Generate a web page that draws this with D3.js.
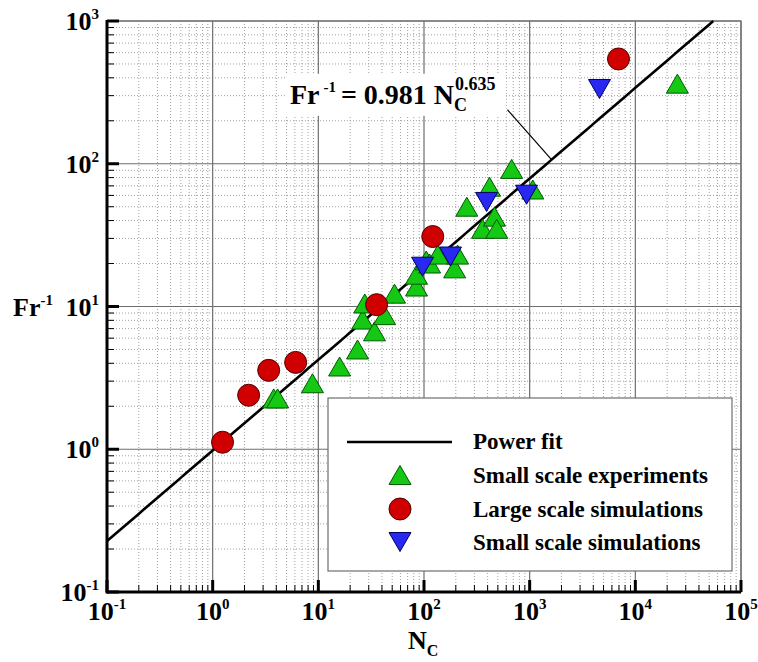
<!DOCTYPE html>
<html><head><meta charset="utf-8">
<script src="https://cdn.jsdelivr.net/npm/d3@7"></script>
<style>
html,body{margin:0;padding:0;background:#fff;}
text{font-family:"Liberation Serif","Times New Roman",serif;font-weight:bold;fill:#000;}
</style></head>
<body>
<svg id="chart" width="758" height="662"></svg>
<script>
// ---- data ----
const xTickValues = [0.1, 1, 10, 100, 1000, 10000, 100000];
const xTickExps = ["-1", "0", "1", "2", "3", "4", "5"];
const yTickValues = [0.1, 1, 10, 100, 1000];
const yTickExps = ["-1", "0", "1", "2", "3"];

const smallExpN  = [3.78, 4.12, 8.8, 15.9, 23.5, 26.3, 27.5, 34, 42.4, 52.6, 85, 85, 105, 113, 135, 195, 208, 254, 358, 417, 465, 488, 675, 1070, 25000];
const smallExpFr = [2.27, 2.27, 2.9, 3.8, 5.0, 8.1, 10.5, 6.7, 8.7, 12.3, 13.8, 16.7, 21, 20.0, 23.1, 18.5, 23.1, 50, 35, 69, 42.6, 35, 92, 66, 364];

const largeSimN  = [1.24, 2.19, 3.39, 6.1, 35.6, 121, 6930];
const largeSimFr = [1.12, 2.39, 3.57, 4.06, 10.3, 30.9, 542];

const smallSimN  = [97, 178, 391, 935, 4580];
const smallSimFr = [19.0, 22.4, 54, 60.7, 334];

const fitCoef = 0.981, fitExp = 0.635;
const legendLabels = ["Power fit", "Small scale experiments", "Large scale simulations", "Small scale simulations"];

// ---- layout ----
const svg = d3.select("#chart");
const L = 107, R = 741, T = 21, B = 592;
const x = d3.scaleLog().domain([0.1, 1e5]).range([L, R]);
const y = d3.scaleLog().domain([0.1, 1000]).range([B, T]);

const minorX = [], minorY = [];
for (let e = -1; e < 5; e++) for (let m = 2; m <= 9; m++) minorX.push(m * Math.pow(10, e));
for (let e = -1; e < 3; e++) for (let m = 2; m <= 9; m++) minorY.push(m * Math.pow(10, e));

// minor grid (dotted)
const g = svg.append("g");
g.selectAll(".mgx").data(minorX).join("line")
  .attr("x1", d => x(d)).attr("x2", d => x(d)).attr("y1", T).attr("y2", B)
  .attr("stroke", "#a0a0a0").attr("stroke-width", 1).attr("stroke-dasharray", "1,2");
g.selectAll(".mgy").data(minorY).join("line")
  .attr("x1", L).attr("x2", R).attr("y1", d => y(d)).attr("y2", d => y(d))
  .attr("stroke", "#a0a0a0").attr("stroke-width", 1).attr("stroke-dasharray", "1,2");
// major grid
g.selectAll(".Mgx").data(xTickValues).join("line")
  .attr("x1", d => x(d)).attr("x2", d => x(d)).attr("y1", T).attr("y2", B)
  .attr("stroke", "#6e6e6e").attr("stroke-width", 1.2);
g.selectAll(".Mgy").data(yTickValues).join("line")
  .attr("x1", L).attr("x2", R).attr("y1", d => y(d)).attr("y2", d => y(d))
  .attr("stroke", "#6e6e6e").attr("stroke-width", 1.2);

svg.append("rect").attr("x", L).attr("y", T).attr("width", R - L).attr("height", B - T)
  .attr("fill", "none").attr("stroke", "#6e6e6e").attr("stroke-width", 1.2);

// power fit line
const fitXs = d3.range(-1, 5.001, 0.05).map(e => Math.pow(10, e));
const fitPts = fitXs.map(v => [v, fitCoef * Math.pow(v, fitExp)]).filter(p => p[1] <= 1000);
const xEnd = Math.pow(1000 / fitCoef, 1 / fitExp);
fitPts.push([xEnd, 1000]);
svg.append("path").datum(fitPts)
  .attr("d", d3.line().x(d => x(d[0])).y(d => y(d[1])))
  .attr("fill", "none").attr("stroke", "#000").attr("stroke-width", 2.6);

// markers
const triUp = "M0,-9.5L11,9.5L-11,9.5Z";
const triDown = "M0,9.5L11,-9.5L-11,-9.5Z";
const green = "#14c814", red = "#d00000", blue = "#2828f0";

svg.append("g").selectAll("path").data(d3.zip(smallExpN, smallExpFr)).join("path")
  .attr("d", triUp).attr("transform", d => `translate(${x(d[0])},${y(d[1])})`)
  .attr("fill", green).attr("stroke", "#005a00").attr("stroke-width", 1);
svg.append("g").selectAll("circle").data(d3.zip(largeSimN, largeSimFr)).join("circle")
  .attr("cx", d => x(d[0])).attr("cy", d => y(d[1])).attr("r", 11)
  .attr("fill", red).attr("stroke", "#500000").attr("stroke-width", 1);
svg.append("g").selectAll("path").data(d3.zip(smallSimN, smallSimFr)).join("path")
  .attr("d", triDown).attr("transform", d => `translate(${x(d[0])},${y(d[1])})`)
  .attr("fill", blue).attr("stroke", "#000060").attr("stroke-width", 1);

// annotation
const annX = 5.38, annY = 263;
const leadStart = [617, 239], leadEndX = 1611;
svg.append("rect").attr("x", x(annX) - 4).attr("y", y(annY) - 30).attr("width", 220).attr("height", 42).attr("fill", "#fff");
svg.append("line").attr("x1", x(leadStart[0])).attr("y1", y(leadStart[1]))
  .attr("x2", x(leadEndX)).attr("y2", y(fitCoef * Math.pow(leadEndX, fitExp)))
  .attr("stroke", "#000").attr("stroke-width", 1.2);
const ann = svg.append("text").attr("x", x(annX)).attr("y", y(annY)).attr("font-size", 28);
ann.append("tspan").text("Fr");
ann.append("tspan").attr("dx", 4).attr("dy", -12).attr("font-size", 15).text("-1");
ann.append("tspan").attr("dx", 5).attr("dy", 12).text("= 0.981 N");
ann.append("tspan").attr("dy", 7).attr("font-size", 18).text("C");
ann.append("tspan").attr("dx", -12).attr("dy", -21).attr("font-size", 18).text("0.635");

// legend
const lg = svg.append("g");
lg.append("rect").attr("x", 328).attr("y", 398).attr("width", 404).attr("height", 173)
  .attr("fill", "#fff").attr("stroke", "#6e6e6e").attr("stroke-width", 1.2);
const rowY = [449, 483, 517, 550];
lg.append("line").attr("x1", 347).attr("x2", 452).attr("y1", rowY[0] - 7).attr("y2", rowY[0] - 7)
  .attr("stroke", "#000").attr("stroke-width", 2.6);
lg.append("path").attr("d", triUp).attr("transform", `translate(400,${rowY[1] - 8})`)
  .attr("fill", green).attr("stroke", "#005a00");
lg.append("circle").attr("cx", 400).attr("cy", rowY[2] - 8).attr("r", 11)
  .attr("fill", red).attr("stroke", "#500000");
lg.append("path").attr("d", triDown).attr("transform", `translate(400,${rowY[3] - 8})`)
  .attr("fill", blue).attr("stroke", "#000060");
lg.selectAll("text.lab").data(legendLabels).join("text")
  .attr("x", 473).attr("y", (d, i) => rowY[i]).attr("font-size", 23).text(d => d);

// axes
svg.append("line").attr("x1", L).attr("x2", R).attr("y1", B).attr("y2", B).attr("stroke", "#000").attr("stroke-width", 3);
svg.append("line").attr("x1", L).attr("x2", L).attr("y1", T - 1).attr("y2", B + 1.5).attr("stroke", "#000").attr("stroke-width", 3);
svg.append("g").selectAll("line").data(xTickValues).join("line")
  .attr("x1", d => x(d)).attr("x2", d => x(d)).attr("y1", B).attr("y2", B - 12)
  .attr("stroke", "#000").attr("stroke-width", 3);
svg.append("g").selectAll("line").data(minorX).join("line")
  .attr("x1", d => x(d)).attr("x2", d => x(d)).attr("y1", B).attr("y2", B - 7)
  .attr("stroke", "#000").attr("stroke-width", 1);
svg.append("g").selectAll("line").data(yTickValues).join("line")
  .attr("x1", L).attr("x2", L + 12).attr("y1", d => y(d)).attr("y2", d => y(d))
  .attr("stroke", "#000").attr("stroke-width", 3);
svg.append("g").selectAll("line").data(minorY).join("line")
  .attr("x1", L).attr("x2", L + 7).attr("y1", d => y(d)).attr("y2", d => y(d))
  .attr("stroke", "#000").attr("stroke-width", 1);

// tick labels
const xl = svg.append("g").selectAll("text").data(xTickValues).join("text")
  .attr("x", d => x(d)).attr("y", 620).attr("text-anchor", "middle").attr("font-size", 26);
xl.append("tspan").text("10");
xl.append("tspan").attr("dy", -11).attr("font-size", 15).text((d, i) => xTickExps[i]);

const yl = svg.append("g").selectAll("text").data(yTickValues).join("text")
  .attr("x", 99).attr("y", d => y(d) + 9).attr("text-anchor", "end").attr("font-size", 26);
yl.append("tspan").text("10");
yl.append("tspan").attr("dy", -11).attr("font-size", 15).text((d, i) => yTickExps[i]);

// axis titles
const yt = svg.append("text").attr("x", 13).attr("y", y(10) + 9).attr("font-size", 26);
yt.append("tspan").text("Fr");
yt.append("tspan").attr("dy", -11).attr("font-size", 15).text("-1");

const xt = svg.append("text").attr("x", 408).attr("y", 649).attr("font-size", 26);
xt.append("tspan").text("N");
xt.append("tspan").attr("dy", 7).attr("font-size", 16).text("C");
</script>
</body></html>
